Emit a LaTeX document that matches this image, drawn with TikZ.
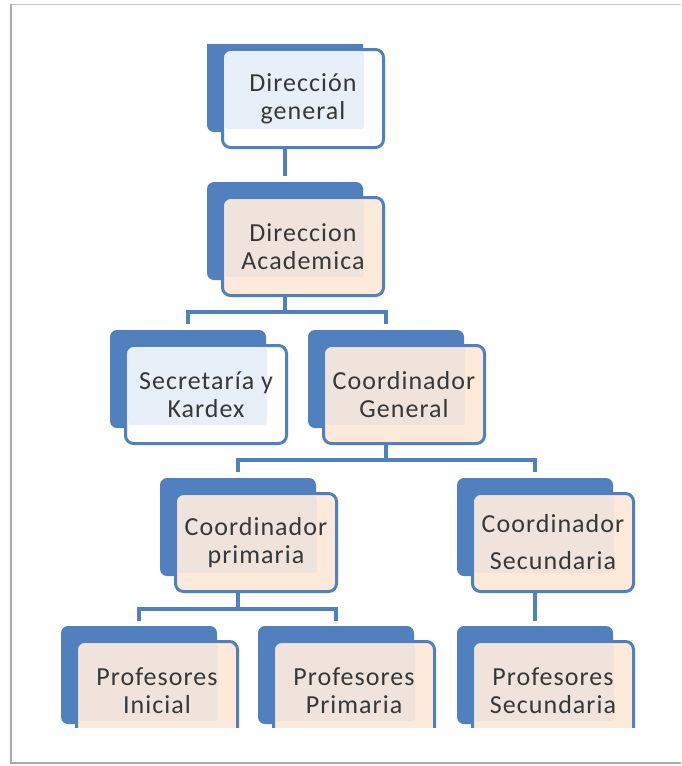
\documentclass[tikz,border=0pt]{standalone}
\usepackage{fontspec}
\setmainfont{Carlito}[LetterSpace=4]
\definecolor{ob}{RGB}{80,129,190}
\definecolor{blueout}{RGB}{255,255,255}
\definecolor{bluein}{RGB}{233,239,248}
\definecolor{peachout}{RGB}{253,234,218}
\definecolor{peachin}{RGB}{240,227,220}
\definecolor{txt}{RGB}{55,55,55}
\definecolor{pageedge}{RGB}{200,200,200}
\tikzset{
  backbox/.style={fill=ob, draw=none, rounded corners=7pt, inner sep=0pt, outer sep=0pt,
    minimum width=156pt, minimum height=98pt, anchor=north west},
  frontbox/.style={draw=ob, line width=3pt, rounded corners=8pt, inner sep=0pt,
    minimum width=161pt, minimum height=98pt, anchor=north west, align=center,
    font=\fontsize{26}{28}\selectfont, text=txt},
  conn/.style={draw=ob, line width=4pt},
}
\newcommand{\orgunit}[6]{%
  \node[backbox] (b#1) at (#2,#3) {};
  \node[frontbox, fill=#4, path picture={\fill[#5, rounded corners=3pt]
      ([xshift=2.5pt,yshift=-2.5pt]path picture bounding box.north west) rectangle
      ([xshift=-19.5pt,yshift=18.5pt]path picture bounding box.south east);}]
      (#1) at (#2+14,#3+14) {#6};
}
\begin{document}
\begin{tikzpicture}[x=1pt,y=-1pt]
\useasboundingbox (0,0) rectangle (681,766);
\fill[white] (0,0) rectangle (681,766);
% page edges
\draw[pageedge, line width=0.8pt] (10,4.5) -- (681,4.5);
\draw[pageedge!85!black, line width=2pt] (11,4) -- (11,763);
\draw[pageedge!85!black, line width=2pt] (10,762.5) -- (681,762.5);
\begin{scope}
\clip (0,44) rectangle (681,727);
\orgunit{dg}{207}{34}{blueout}{bluein}{Dirección\\general}
\orgunit{da}{207}{182}{peachout}{peachin}{Direccion\\Academica}
\orgunit{sk}{110}{330}{blueout}{bluein}{Secretaría y\\Kardex}
\orgunit{cg}{308}{330}{peachout}{peachin}{Coordinador\\General}
\orgunit{cp}{160}{478}{peachout}{peachin}{Coordinador\\primaria}
\orgunit{cs}{457}{478}{peachout}{peachin}{Coordinador\\[9pt]Secundaria}
\orgunit{pi}{61}{626}{peachout}{peachin}{Profesores\\Inicial}
\orgunit{pp}{258}{626}{peachout}{peachin}{Profesores\\Primaria}
\orgunit{ps}{457}{626}{peachout}{peachin}{Profesores\\Secundaria}
% connectors
\draw[conn] (bdg.north |- dg.south) -- ([yshift=6pt]bda.north);
\draw[conn] (bda.north |- da.south) -- ++(0,15) coordinate (m1);
\draw[conn] ([yshift=6pt]bsk.north) |- (m1) -| ([yshift=6pt]bcg.north);
\draw[conn] (bcg.north |- cg.south) -- ++(0,15) coordinate (m2);
\draw[conn] ([yshift=6pt]bcp.north) |- (m2) -| ([yshift=6pt]bcs.north);
\draw[conn] (bcp.north |- cp.south) -- ++(0,16) coordinate (m3);
\draw[conn] ([yshift=5pt]bpi.north) |- (m3) -| ([yshift=5pt]bpp.north);
\draw[conn] (bcs.north |- cs.south) -- ([yshift=5pt]bps.north);
\end{scope}
\end{tikzpicture}
\end{document}
